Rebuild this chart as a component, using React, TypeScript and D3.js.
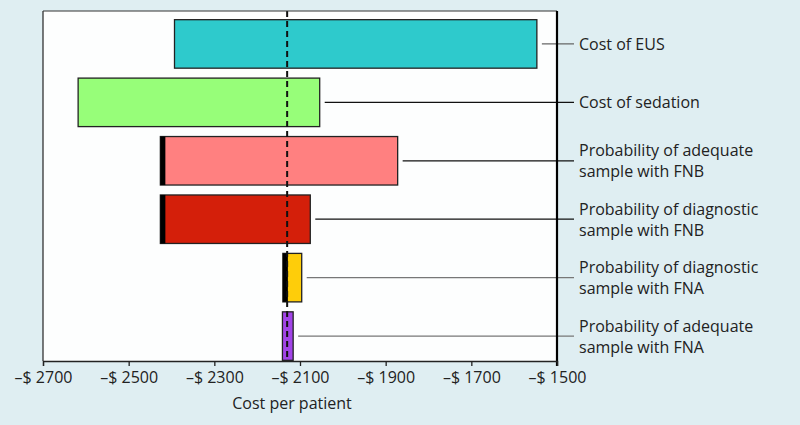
import React, { useEffect, useRef } from "react";
import * as d3 from "d3";

const categories = [
  ["Cost of EUS"],
  ["Cost of sedation"],
  ["Probability of adequate", "sample with FNB"],
  ["Probability of diagnostic", "sample with FNB"],
  ["Probability of diagnostic", "sample with FNA"],
  ["Probability of adequate", "sample with FNA"],
];
const lowValues = [-2393, -2618, -2426, -2426, -2140, -2141];
const highValues = [-1547, -2054, -1872, -2076, -2096, -2116];
const markedLow = [false, false, true, true, true, false];
const baseValue = -2130;
const tickValues = [-2700, -2500, -2300, -2100, -1900, -1700, -1500];
const colors = ["#2ecacc", "#97fe79", "#ff8080", "#d41f0a", "#fecd0a", "#a244e8"];
const leaderColors = ["#666", "#111", "#111", "#111", "#777", "#777"];

export default function App() {
  const ref = useRef<SVGSVGElement>(null);
  useEffect(() => {
    const svg = d3.select(ref.current);
    svg.selectAll("*").remove();
    const W = 800, H = 425;
    const left = 43, right = 557, top = 11, bottom = 361;
    const font = "'Open Sans', sans-serif";
    const fs = 16;
    svg.append("rect").attr("width", W).attr("height", H).attr("fill", "#dfeef2");
    svg.append("rect").attr("x", left).attr("y", top).attr("width", right - left).attr("height", bottom - top).attr("fill", "#fdfefe");

    const x = d3.scaleLinear().domain([-2700, -1500]).range([left, right]);
    const idx = categories.map((_, i) => i);
    const y = d3.scaleBand<number>().domain(idx).range([top + 4, bottom + 4]).paddingInner(0.17).paddingOuter(0.08);

    const g = svg.append("g");
    idx.forEach((i) => {
      const x0 = x(lowValues[i]), x1 = x(highValues[i]);
      const y0 = y(i)!, bh = y.bandwidth();
      g.append("rect").attr("x", x0).attr("y", y0).attr("width", x1 - x0).attr("height", bh)
        .attr("fill", colors[i]).attr("stroke", "#222").attr("stroke-width", 1.3);
      if (markedLow[i]) {
        g.append("rect").attr("x", x0).attr("y", y0).attr("width", 5).attr("height", bh).attr("fill", "#000");
      }
      const cy = y0 + bh / 2;
      g.append("line").attr("x1", x1 + 5).attr("x2", 574).attr("y1", cy).attr("y2", cy)
        .attr("stroke", leaderColors[i]).attr("stroke-width", 1.3);
      const lines = categories[i];
      const lh = 21;
      const t = g.append("text").attr("font-family", font).attr("font-size", fs).attr("fill", "#222");
      lines.forEach((s, k) => {
        t.append("tspan").attr("x", 579).attr("y", cy + 6 + (k - (lines.length - 1) / 2) * lh).text(s);
      });
    });

    // baseline dashed
    svg.append("line").attr("x1", x(baseValue)).attr("x2", x(baseValue)).attr("y1", top).attr("y2", bottom)
      .attr("stroke", "#111").attr("stroke-width", 2).attr("stroke-dasharray", "6,4");

    // frame
    svg.append("line").attr("x1", left).attr("x2", right).attr("y1", top).attr("y2", top).attr("stroke", "#333").attr("stroke-width", 1);
    svg.append("line").attr("x1", left).attr("x2", left).attr("y1", top).attr("y2", bottom).attr("stroke", "#333").attr("stroke-width", 1.3);
    svg.append("line").attr("x1", right).attr("x2", right).attr("y1", top).attr("y2", bottom + 5).attr("stroke", "#000").attr("stroke-width", 2.2);

    const axis = d3.axisBottom(x).tickValues(tickValues).tickSize(5).tickPadding(6)
      .tickFormat((d) => "\u2013$ " + Math.abs(d as number));
    const ag = svg.append("g").attr("transform", `translate(0,${bottom})`).call(axis);
    ag.select(".domain").attr("stroke", "#222").attr("stroke-width", 1.3);
    ag.selectAll(".tick line").attr("stroke", "#222").attr("stroke-width", 1.3);
    ag.selectAll("text").attr("font-family", font).attr("font-size", fs).attr("fill", "#222");

    svg.append("text").attr("x", 292).attr("y", 409).attr("text-anchor", "middle")
      .attr("font-family", font).attr("font-size", fs).attr("fill", "#222").text("Cost per patient");
  }, []);
  return (
    <div style={{ position: "absolute", left: 0, top: 0 }}>
      <svg ref={ref} width={800} height={425} style={{ display: "block" }} />
    </div>
  );
}
